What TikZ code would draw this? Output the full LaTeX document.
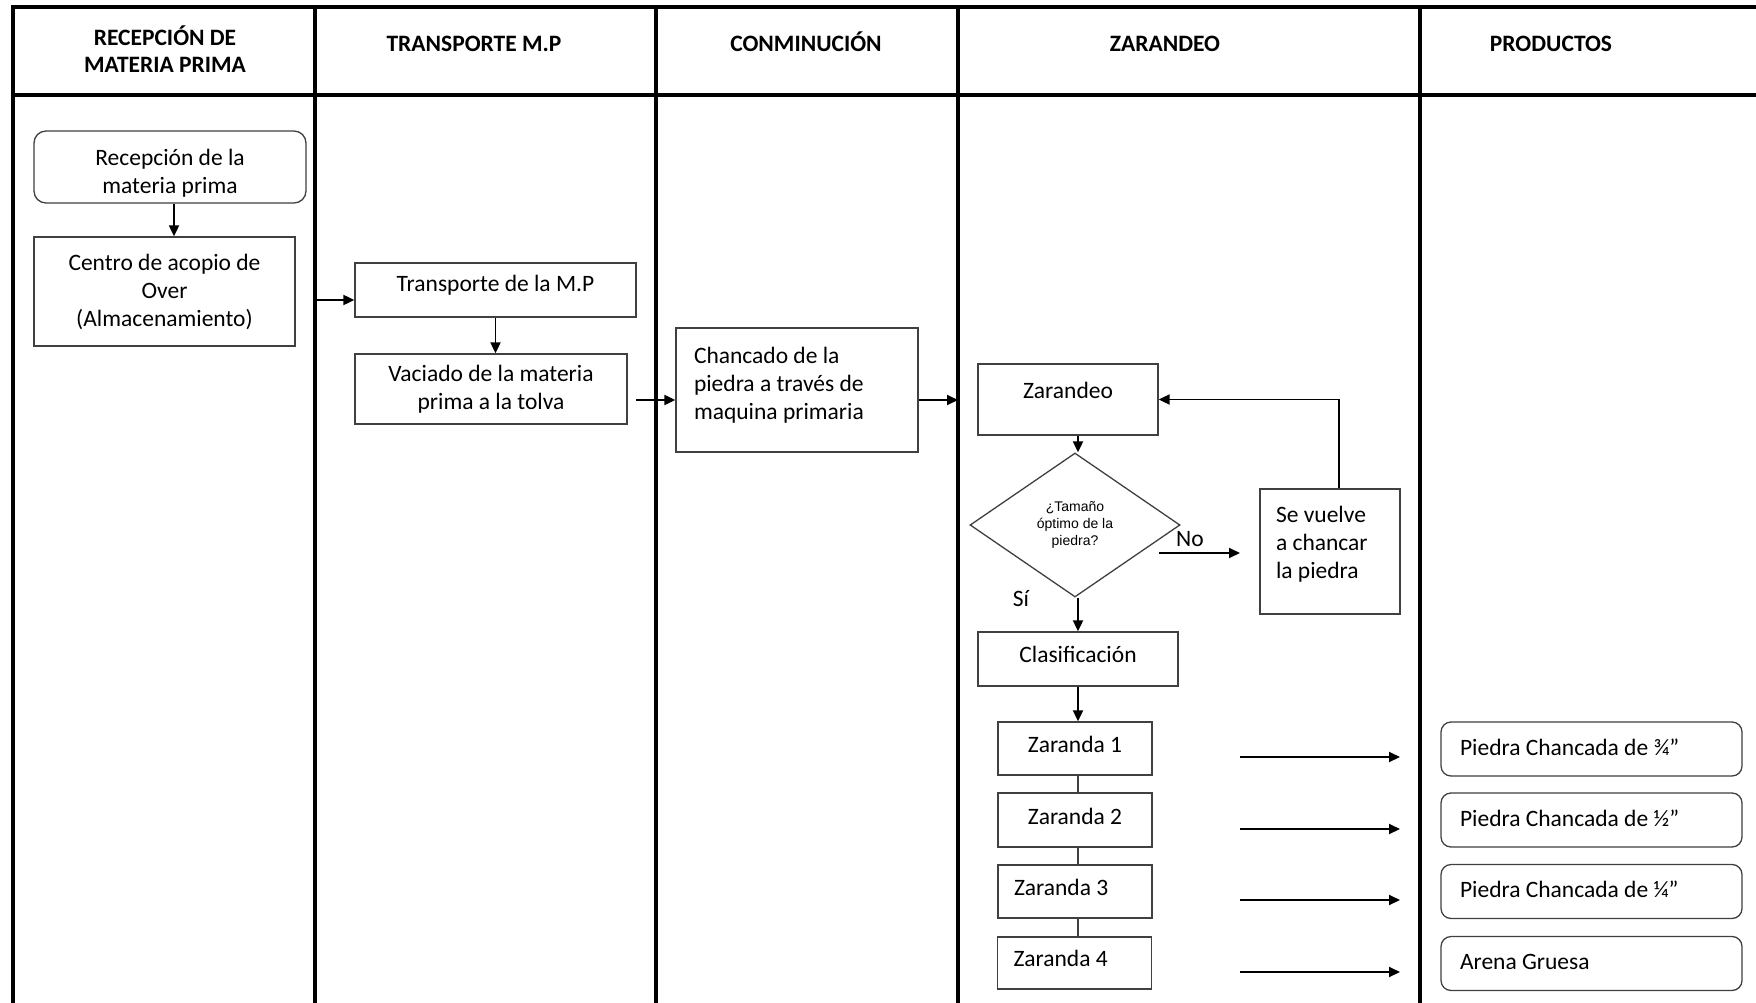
\documentclass[tikz,border=0pt]{standalone}
\usepackage{fontspec}
\setmainfont{Carlito}
\newfontfamily\arialf{Liberation Sans}
\usetikzlibrary{shapes.geometric,arrows.meta,calc}
\newcommand\mydrop[1]{\rule[-#1pt]{0pt}{#1pt}}
\newcommand\myraise[1]{\rule{0pt}{#1pt}}
\begin{document}
\begin{tikzpicture}[x=1pt,y=-1pt,
  lane/.style={line width=3.5pt,black},
  box/.style={draw=black!75,line width=1.3pt,rectangle,inner sep=0pt,font=\fontsize{23.5}{28}\selectfont,align=center},
  lbox/.style={box,align=flush left},
  rbox/.style={box,rounded corners=12pt},
  arr/.style={line width=1.9pt,-{Triangle[length=11pt,width=10pt]}},
  conn/.style={line width=1.3pt,black!75},
  head/.style={font=\bfseries\fontsize{23.5}{27}\selectfont,align=center},
  capt/.style={head,text height=15pt,text depth=0pt},
  lbl/.style={font=\fontsize{23.5}{28}\selectfont,inner sep=0pt}
]
\useasboundingbox[fill=white] (0,0) rectangle (1756,1003);

% swimlane frame
\draw[lane] (11.25,7) -- (1756,7);
\draw[lane] (11.25,95) -- (1756,95);
\draw[lane] (13,5.25) -- (13,1003);
\foreach \xx in {315,656,958,1420} \draw[lane] (\xx,5.25) -- (\xx,1003);

% headers
\node[head] (h1) at (165,49.5) {RECEPCIÓN DE\\MATERIA PRIMA};
\node[capt] (h2) at (474,44.5) {TRANSPORTE M.P};
\node[capt] (h3) at (806,44.5) {CONMINUCIÓN};
\node[capt] (h4) at (1165,44.5) {ZARANDEO};
\node[capt] (h5) at (1551,44.5) {PRODUCTOS};

% nodes
\node[rbox,minimum width=272pt,minimum height=72pt] (rec) at (170,167) {\myraise{29}Recepción de la\\materia prima};
\node[box,minimum width=261pt,minimum height=109pt] (cen) at (164.5,291.5) {Centro de acopio de\\Over\\(Almacenamiento)};
\node[box,minimum width=281pt,minimum height=54pt] (tra) at (495.5,290) {Transporte de la M.P\mydrop{13}};
\node[box,minimum width=272pt,minimum height=70pt] (vac) at (491,389) {Vaciado de la materia\\prima a la tolva};
\node[lbox,text width=206pt,inner xsep=18pt,minimum width=242pt,minimum height=124pt] (cha) at (797,390) {Chancado de la\\piedra a través de\\maquina primaria\mydrop{14}};
\node[box,minimum width=180pt,minimum height=71pt] (zar) at (1068,399.5) {Zarandeo\mydrop{18}};
\node[draw=black!75,line width=1.3pt,diamond,inner sep=0pt,minimum width=210pt,minimum height=144pt,font=\arialf\fontsize{14}{17}\selectfont,align=center] (dia) at (1075,525) {¿Tamaño\\óptimo de la\\piedra?};
\node[lbox,text width=108pt,inner xsep=16pt,minimum width=140pt,minimum height=125pt] (sv) at (1330,551.5) {Se vuelve\\a chancar\\la piedra\mydrop{18}};
\node[box,minimum width=200pt,minimum height=54pt] (cla) at (1078,659) {Clasificación\mydrop{10}};
\node[box,minimum width=154pt,minimum height=53pt] (z1) at (1075,748.5) {Zaranda 1\mydrop{9}};
\node[box,minimum width=154pt,minimum height=54pt] (z2) at (1075,820) {Zaranda 2\mydrop{8}};
\node[lbox,text width=122pt,inner xsep=16pt,minimum width=154pt,minimum height=53pt] (z3) at (1075,891.5) {Zaranda 3\mydrop{9}};
\node[lbox,text width=122pt,inner xsep=16pt,minimum width=154pt,minimum height=52pt] (z4) at (1074.5,963) {Zaranda 4\mydrop{10}};

\tikzset{prod/.style={rbox,rounded corners=10pt,align=flush left,text width=263pt,inner xsep=19pt,minimum width=301pt,minimum height=54pt}}
\node[prod] (p1) at (1591.5,749) {Piedra Chancada de ¾”\mydrop{4}};
\node[prod] (p2) at (1591.5,820) {Piedra Chancada de ½”\mydrop{4}};
\node[prod] (p3) at (1591.5,891.5) {Piedra Chancada de ¼”\mydrop{4}};
\node[prod] (p4) at (1591.5,963.5) {Arena Gruesa\mydrop{4}};

% labels
\node[lbl] (no) at (1190,539) {No};
\node[lbl] (si) at (1021,599) {Sí};

% free-end coordinates
\coordinate (l1) at (317,300);
\coordinate (v1) at (636,400);
\coordinate (l3) at (958,400);
\coordinate (n1) at (1159,553);
\coordinate (n2) at (1240,553);
\coordinate (a1) at (1240,757); \coordinate (b1) at (1400,757);
\coordinate (a2) at (1240,829); \coordinate (b2) at (1400,829);
\coordinate (a3) at (1240,900); \coordinate (b3) at (1400,900);
\coordinate (a4) at (1240,972); \coordinate (b4) at (1400,972);
\coordinate (zx) at (1078,0);
\coordinate (lx) at (1339,0);

% connectors
\draw[arr] ([xshift=4pt]rec.south) -- ([xshift=4pt]rec.south |- cen.north);
\draw[arr] (l1) -- (l1 -| tra.west);
\draw[arr] (tra.south) -- (tra.south |- vac.north);
\draw[arr] (v1) -- (v1 -| cha.west);
\draw[arr] (cha.east |- l3) -- (l3);
\draw[arr] (zar.south -| zx) -- (dia.north -| zx);
\draw[arr] (dia.south -| zx) -- (cla.north -| zx);
\draw[arr] (n1) -- (n2);
\draw[arr] (sv.north -| lx) |- (zar.east);
\draw[arr] (cla.south -| zx) -- (z1.north -| zx);
\draw[conn] (z1.south -| zx) -- (z2.north -| zx);
\draw[conn] (z2.south -| zx) -- (z3.north -| zx);
\draw[conn] (z3.south -| zx) -- (z4.north -| zx);
\draw[arr] (a1) -- (b1);
\draw[arr] (a2) -- (b2);
\draw[arr] (a3) -- (b3);
\draw[arr] (a4) -- (b4);
\end{tikzpicture}
\end{document}
